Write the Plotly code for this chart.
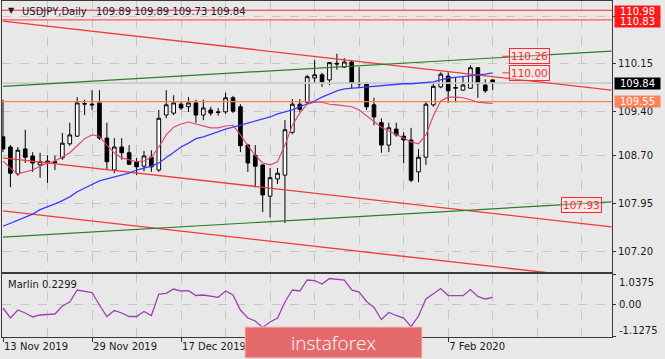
import plotly.graph_objects as go

# ---------------- data ----------------
bar_idx = list(range(67))
opens = [109.00,108.84,108.42,108.81,108.70,108.56,108.59,108.61,108.67,108.89,
         109.01,109.51,109.51,109.53,108.98,108.48,108.84,108.75,108.61,108.54,
         108.68,108.48,109.34,109.37,109.51,109.47,109.53,109.34,109.42,109.39,
         109.39,109.61,109.47,108.87,108.71,108.56,108.07,108.34,108.40,109.07,
         109.51,109.54,109.92,109.97,109.89,110.15,110.09,110.17,109.84,109.84,
         109.50,109.22,108.87,109.12,109.01,108.95,108.45,108.68,109.50,109.78,
         109.95,109.76,109.73,109.76,110.08,109.81,109.89]
highs = [109.58,108.87,108.84,109.11,108.76,108.75,108.71,108.71,109.06,109.22,
         109.62,109.58,109.73,109.73,109.22,108.98,108.98,108.87,108.67,108.78,
         108.79,109.42,109.73,109.65,109.56,109.62,109.58,109.58,109.47,109.45,
         109.69,109.64,109.51,108.89,108.87,108.56,108.51,108.51,109.26,109.59,
         109.59,109.97,110.20,110.00,110.17,110.30,110.23,110.20,110.09,109.84,
         109.61,109.29,109.22,109.22,109.07,109.14,108.81,109.54,109.84,110.01,
         110.01,109.92,109.94,110.12,110.09,109.90,109.89]
lows = [108.76,108.21,108.39,108.59,108.45,108.36,108.28,108.48,108.64,108.86,
        109.00,109.34,109.42,108.95,108.48,108.43,108.64,108.56,108.40,108.46,
        108.45,108.45,109.29,109.34,109.42,109.39,109.22,109.26,109.33,109.33,
        109.36,109.37,108.76,108.45,108.21,107.82,107.74,108.26,107.65,109.04,
        109.39,109.51,109.84,109.78,109.81,110.05,110.08,109.76,109.76,109.42,
        109.18,108.75,108.76,109.00,108.59,108.29,108.29,108.56,109.47,109.76,
        109.53,109.54,109.72,109.75,109.61,109.69,109.73]
closes = [108.81,108.43,108.79,108.68,108.59,108.61,108.62,108.60,108.90,109.03,
          109.53,109.52,109.50,108.98,108.61,108.84,108.75,108.57,108.53,108.70,
          108.53,109.29,109.50,109.53,109.45,109.53,109.34,109.45,109.37,109.38,
          109.61,109.40,108.86,108.59,108.54,108.09,108.36,108.43,109.11,109.51,
          109.43,109.94,109.97,109.86,110.16,110.14,110.17,109.84,109.83,109.47,
          109.31,108.87,109.14,109.03,108.95,108.32,108.68,109.51,109.79,109.98,
          109.72,109.77,109.81,110.08,109.83,109.72,109.84]
ma_slow = [107.60,107.65,107.70,107.75,107.79,107.86,107.90,107.95,108.00,108.06,
           108.14,108.20,108.26,108.31,108.34,108.37,108.40,108.43,108.48,108.51,
           108.54,108.59,108.67,108.76,108.84,108.90,108.97,109.00,109.04,109.09,
           109.12,109.15,109.18,109.22,109.25,109.28,109.31,109.36,109.39,109.42,
           109.47,109.51,109.56,109.62,109.67,109.72,109.75,109.76,109.78,109.79,
           109.80,109.81,109.82,109.83,109.83,109.83,109.84,109.85,109.86,109.89,
           109.92,109.93,109.94,109.95,109.97,109.98,110.00]
ma_fast = [108.62,108.51,108.42,108.45,108.48,108.54,108.59,108.62,108.68,108.75,
           108.86,108.97,109.03,109.01,108.87,108.75,108.67,108.64,108.61,108.62,
           108.68,108.84,109.03,109.15,109.20,109.23,109.20,109.17,109.14,109.14,
           109.17,109.18,109.03,108.86,108.71,108.59,108.56,108.61,108.87,109.18,
           109.37,109.51,109.54,109.54,109.51,109.50,109.48,109.47,109.42,109.33,
           109.23,109.15,109.09,109.04,108.98,108.92,108.89,109.03,109.33,109.56,
           109.62,109.62,109.61,109.58,109.54,109.53,109.52]
marlin = [-0.137,-0.482,-0.206,-0.309,-0.447,-0.378,-0.361,-0.344,-0.067,0.071,
          0.485,0.433,0.399,-0.033,-0.430,-0.223,-0.309,-0.430,-0.430,-0.257,
          -0.395,0.347,0.371,0.519,0.450,0.461,0.295,0.312,0.278,0.233,
          0.450,0.312,-0.206,-0.482,-0.585,-0.810,-0.620,-0.482,0.071,0.485,
          0.450,0.830,0.806,0.692,0.882,0.865,0.830,0.485,0.416,0.088,
          -0.119,-0.534,-0.292,-0.395,-0.482,-0.782,-0.413,0.174,0.364,0.537,
          0.295,0.288,0.288,0.502,0.261,0.174,0.2299]

date_tick_idx = [0, 12, 24, 36, 48, 60]
date_tick_text = ["13 Nov 2019", "29 Nov 2019", "17 Dec 2019", "", "", "7 Feb 2020"]
grid_minor_idx = [6, 18, 30, 42, 54, 66, 72, 78]

price_ticks = [107.20, 107.95, 108.70, 109.40, 110.15, 110.88]
price_tick_text = ["107.20", "107.95", "108.70", "109.40", "110.15", ""]

# trend lines: (start index, start price, end index, end price)
red_channel = [(0, 110.81, 82, 109.73), (0, 108.67, 82, 107.59), (0, 107.84, 82, 106.76)]
green_channel = [(0, 109.79, 82, 110.34), (0, 107.43, 82, 107.98)]
resist_levels = [110.98, 110.83]
support_level = 109.55
last_price = 109.84
level_labels = [("110.26", 110.26, 71.0, True), ("110.00", 110.00, 71.0, True), ("107.93", 107.93, 78.0, False)]
marlin_labels = ["1.0375", "0.00", "-1.1275"]
marlin_levels = [1.0375, 0.0, -1.1275]

# ---------------- figure ----------------
W, H = 665, 359
BG = "#e8e8e8"
GRID = "#c6c6c6"
FONT = "DejaVu Sans"
XR = [-0.135, 82.08]

fig = go.Figure()

# bid line
fig.add_trace(go.Scatter(x=XR, y=[last_price, last_price], mode="lines",
                         line=dict(color="#cbcbcb", width=1.6), hoverinfo="skip", showlegend=False))
for lv, col in zip(resist_levels, ["#ff2020", "#ff5a5a"]):
    fig.add_trace(go.Scatter(x=XR, y=[lv, lv], mode="lines",
                             line=dict(color=col, width=1.2), hoverinfo="skip", showlegend=False))
fig.add_trace(go.Scatter(x=XR, y=[support_level, support_level], mode="lines",
                         line=dict(color="#ff7f50", width=1.2), hoverinfo="skip", showlegend=False))

for x0, p0, x1, p1 in red_channel:
    fig.add_trace(go.Scatter(x=[x0, x1], y=[p0, p1], mode="lines",
                             line=dict(color="#f23a3a", width=1.4), hoverinfo="skip", showlegend=False))
for x0, p0, x1, p1 in green_channel:
    fig.add_trace(go.Scatter(x=[x0, x1], y=[p0, p1], mode="lines",
                             line=dict(color="#2a7d2a", width=1.2), hoverinfo="skip", showlegend=False))

fig.add_trace(go.Candlestick(
    x=bar_idx, open=opens, high=highs, low=lows, close=closes,
    increasing=dict(line=dict(color="#000000", width=1), fillcolor="#ffffff"),
    decreasing=dict(line=dict(color="#000000", width=1), fillcolor="#000000"),
    whiskerwidth=0, showlegend=False, hoverinfo="skip", xaxis="x", yaxis="y"))

fig.add_trace(go.Scatter(x=bar_idx, y=ma_slow, mode="lines",
                         line=dict(color="#3a3cff", width=1.3), hoverinfo="skip", showlegend=False))
fig.add_trace(go.Scatter(x=bar_idx, y=ma_fast, mode="lines",
                         line=dict(color="#e0446e", width=1.1), hoverinfo="skip", showlegend=False))

fig.add_trace(go.Scatter(x=bar_idx, y=marlin, mode="lines", xaxis="x2", yaxis="y2",
                         line=dict(color="#a040b0", width=1.3), hoverinfo="skip", showlegend=False))

xd = [2 / W, 612 / W]
axis_common = dict(showline=True, mirror=True, linecolor="#3a3a3a", linewidth=1, zeroline=False,
                   fixedrange=True)
fig.update_layout(
    width=W, height=H, autosize=False,
    margin=dict(l=0, r=0, t=0, b=0),
    paper_bgcolor=BG, plot_bgcolor=BG,
    font=dict(family=FONT, size=10, color="#1a1a1a"),
    showlegend=False,
    xaxis=dict(domain=xd, range=XR, anchor="y", tickvals=date_tick_idx, showticklabels=False,
               ticks="", showgrid=True, gridcolor=GRID, griddash="dash", gridwidth=1,
               minor=dict(tickvals=grid_minor_idx, showgrid=True, gridcolor=GRID, griddash="dash", ticks=""),
               rangeslider=dict(visible=False), **axis_common),
    xaxis2=dict(domain=xd, range=XR, anchor="y2", tickvals=date_tick_idx, ticktext=date_tick_text,
                ticks="outside", ticklen=4, tickcolor="#333", ticklabelposition="outside right",
                showgrid=True, gridcolor=GRID, griddash="dash", gridwidth=1,
                minor=dict(tickvals=grid_minor_idx, showgrid=True, gridcolor=GRID, griddash="dash", ticks=""),
                tickfont=dict(family=FONT, size=10, color="#1a1a1a"), **axis_common),
    yaxis=dict(domain=[(H - 272) / H, (H - 1) / H], range=[106.884, 111.125], side="right", anchor="x",
               tickvals=price_ticks, ticktext=price_tick_text, ticks="outside", ticklen=3, tickcolor="#333",
               showgrid=True, gridcolor=GRID, griddash="dash", gridwidth=1,
               tickfont=dict(family=FONT, size=10, color="#1a1a1a"), **axis_common),
    yaxis2=dict(domain=[(H - 336.7) / H, (H - 274) / H], range=[-1.1275, 1.0375], side="right", anchor="x2",
                tickvals=marlin_levels, showticklabels=False, ticks="outside", ticklen=3, tickcolor="#333",
                showgrid=True, gridcolor=GRID, griddash="dash", gridwidth=1, **axis_common),
)

ann = []
# header
ann.append(dict(text="▼", x=6 / W, y=(H - 11) / H, xref="paper", yref="paper", xanchor="left",
                yanchor="middle", showarrow=False, font=dict(family=FONT, size=8, color="#1a1a1a")))
ann.append(dict(text="USDJPY,Daily", x=20 / W, y=(H - 11.5) / H, xref="paper", yref="paper", xanchor="left",
                yanchor="middle", showarrow=False, font=dict(family=FONT, size=10, color="#1a1a2a")))
ann.append(dict(text="109.89 109.89 109.73 109.84", x=94 / W, y=(H - 11.5) / H, xref="paper", yref="paper",
                xanchor="left", yanchor="middle", showarrow=False,
                font=dict(family=FONT, size=10, color="#1a1a2a")))
ann.append(dict(text="Marlin 0.2299", x=6 / W, y=(H - 284) / H, xref="paper", yref="paper", xanchor="left",
                yanchor="middle", showarrow=False, font=dict(family=FONT, size=10, color="#1a1a1a")))

# price boxes on the right axis
box_specs = [(resist_levels[0], "#ff1a1a", "#ffffff", -1.5), (resist_levels[1], "#ff1a1a", "#ffffff", -1.5),
             (last_price, "#000000", "#ffffff", 0), (support_level, "#ff825a", "#ffffff", 0)]
for lv, bg, fc, ys in box_specs:
    ann.append(dict(text=f"{lv:.2f}", x=614 / W, y=lv, xref="paper", yref="y", xanchor="left",
                    yanchor="middle", yshift=ys, showarrow=False, bgcolor=bg, width=44, height=10,
                    borderpad=0.5, font=dict(family=FONT, size=10, color=fc)))

# level labels on chart
for txt, lv, xi, dash in level_labels:
    a = dict(text=txt, x=xi, y=lv, xref="x", yref="y", xanchor="center", yanchor="middle",
             bordercolor="#ff2a2a", borderwidth=1, borderpad=1, bgcolor="rgba(255,235,235,0.35)",
             font=dict(family=FONT, size=10.5, color="#ff2a2a"), showarrow=False)
    if dash:
        a.update(showarrow=True, arrowhead=0, arrowwidth=1, arrowcolor="#ff2a2a",
                 x=xi - 3.7, ax=27.5, ay=0, xanchor="center")
    ann.append(a)

# Marlin axis labels
for txt, ypx in zip(marlin_labels, [282.7, 304, 330]):
    ann.append(dict(text=txt, x=617 / W, y=(H - ypx) / H, xref="paper", yref="paper", xanchor="left",
                    yanchor="middle", showarrow=False, font=dict(family=FONT, size=10, color="#1a1a1a")))

# watermark
ann.append(dict(text="instaforex", x=333 / W, y=(H - 343) / H, xref="paper", yref="paper",
                xanchor="center", yanchor="middle", showarrow=False,
                font=dict(family="Open Sans", size=19, color="#ffffff", weight=300)))

fig.update_layout(annotations=ann)
fig.add_shape(type="rect", xref="paper", yref="paper", x0=245 / W, x1=422 / W, y0=1 / H, y1=(H - 327) / H,
              fillcolor="#e46a6c", line=dict(color="#f4c0c0", width=1), layer="above")

fig.write_html("out.html", config={"displayModeBar": False, "staticPlot": True},
               post_script="document.body.style.margin='0';document.body.style.overflow='hidden';")
